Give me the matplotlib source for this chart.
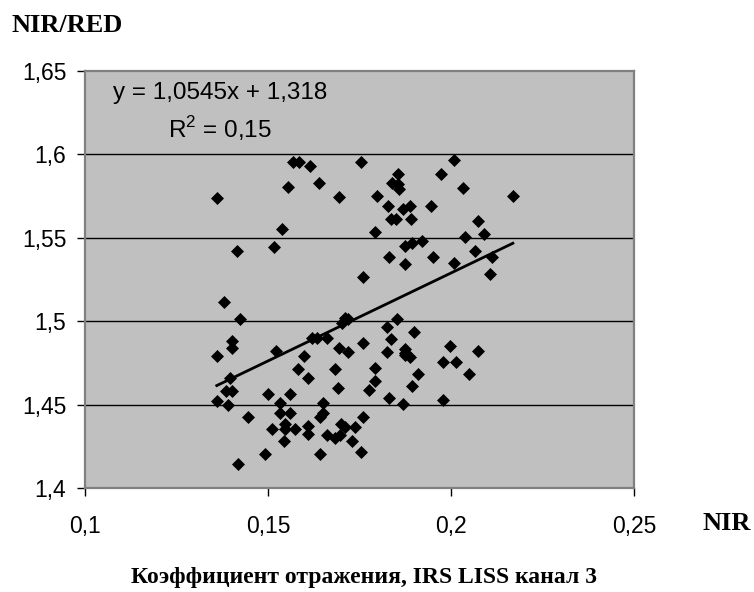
"""NIR/RED vs NIR reflectance scatter (IRS LISS band 3) with linear trend."""

import matplotlib
matplotlib.use("Agg")
import matplotlib.pyplot as plt
import numpy as np

# NIR reflectance (x) and NIR/RED ratio (y)
NIR = [
    0.1568, 0.1584, 0.1615, 0.1554, 0.1640, 0.1695, 0.1361, 0.1538, 0.1516, 0.1415,
    0.1754, 0.2008, 0.1972, 0.1855, 0.1838, 0.1856, 0.1859, 0.2034, 0.2169, 0.1797,
    0.1827, 0.1870, 0.1889, 0.1946, 0.1837, 0.1849, 0.1890, 0.2075, 0.1792, 0.2039,
    0.2091, 0.1920, 0.1894, 0.1873, 0.2065, 0.1831, 0.1952, 0.2112, 0.2008, 0.1873,
    0.1760, 0.2106, 0.1381, 0.1423, 0.1402, 0.1402, 0.1360, 0.1522, 0.1620, 0.1635,
    0.1662, 0.1598, 0.1583, 0.1610, 0.1694, 0.1683, 0.1690, 0.1396, 0.1384, 0.1401,
    0.1360, 0.1392, 0.1445, 0.1501, 0.1559, 0.1533, 0.1651, 0.1651, 0.1533, 0.1560,
    0.1642, 0.1512, 0.1546, 0.1546, 0.1574, 0.1610, 0.1610, 0.1544, 0.1660, 0.1683,
    0.1697, 0.1700, 0.1711, 0.1738, 0.1729, 0.1754, 0.1760, 0.1492, 0.1641, 0.1419,
    0.1710, 0.1719, 0.1701, 0.1852, 0.1826, 0.1900, 0.1874, 0.1874, 0.1997, 0.1977,
    0.2014, 0.1718, 0.1760, 0.1837, 0.1826, 0.1873, 0.1889, 0.2075, 0.1791, 0.1911,
    0.2050, 0.1792, 0.1775, 0.1894, 0.1831, 0.1868, 0.1977,
]
NIR_RED = [
    1.5955, 1.5955, 1.5929, 1.5805, 1.5826, 1.5742, 1.5740, 1.5552, 1.5444, 1.5420,
    1.5955, 1.5968, 1.5884, 1.5880, 1.5829, 1.5824, 1.5790, 1.5797, 1.5751, 1.5749,
    1.5692, 1.5671, 1.5692, 1.5692, 1.5611, 1.5611, 1.5611, 1.5599, 1.5535, 1.5503,
    1.5524, 1.5478, 1.5468, 1.5448, 1.5423, 1.5387, 1.5387, 1.5387, 1.5347, 1.5343,
    1.5264, 1.5284, 1.5113, 1.5011, 1.4883, 1.4837, 1.4793, 1.4821, 1.4901, 1.4901,
    1.4897, 1.4793, 1.4714, 1.4657, 1.4842, 1.4714, 1.4598, 1.4662, 1.4583, 1.4583,
    1.4523, 1.4498, 1.4424, 1.4565, 1.4565, 1.4510, 1.4510, 1.4447, 1.4450, 1.4450,
    1.4428, 1.4354, 1.4383, 1.4356, 1.4352, 1.4369, 1.4326, 1.4281, 1.4320, 1.4298,
    1.4318, 1.4383, 1.4363, 1.4363, 1.4281, 1.4214, 1.4424, 1.4201, 1.4201, 1.4141,
    1.5019, 1.5011, 1.4989, 1.5013, 1.4968, 1.4934, 1.4836, 1.4795, 1.4853, 1.4755,
    1.4755, 1.4814, 1.4872, 1.4892, 1.4815, 1.4810, 1.4783, 1.4819, 1.4717, 1.4684,
    1.4684, 1.4642, 1.4586, 1.4612, 1.4537, 1.4503, 1.4527,
]

# trend line as printed on the chart
SLOPE = 1.0545
INTERCEPT = 1.318
EQUATION = "y = 1,0545x + 1,318"
R2_TEXT = "R$^2$ = 0,15"

XTICKS = [0.10, 0.15, 0.20, 0.25]
XTICK_LABELS = ["0,1", "0,15", "0,2", "0,25"]
YTICKS = [1.40, 1.45, 1.50, 1.55, 1.60, 1.65]
YTICK_LABELS = ["1,4", "1,45", "1,5", "1,55", "1,6", "1,65"]

W, H = 754, 592


def main() -> None:
    plt.rcParams.update({
        "font.family": ["Liberation Sans", "DejaVu Sans"],
        "font.size": 16.5,
        "mathtext.fontset": "custom",
        "mathtext.rm": "Liberation Sans",
    })

    fig = plt.figure(figsize=(W / 100, H / 100), dpi=100)
    ax = fig.add_axes([85 / W, 1 - 488 / H, (634 - 85) / W, (488 - 71) / H])
    ax.set_facecolor("#C0C0C0")

    ax.set_xlim(0.10, 0.25)
    ax.set_ylim(1.40, 1.65)
    ax.set_xticks(XTICKS)
    ax.set_xticklabels(XTICK_LABELS)
    ax.set_yticks(YTICKS)
    ax.set_yticklabels(YTICK_LABELS)
    ax.tick_params(direction="out", length=5.5, width=1.0, color="black", pad=8)
    ax.tick_params(axis="x", pad=14)

    for y in YTICKS[1:-1]:
        ax.axhline(y, color="black", linewidth=1.0, zorder=1)
    for s in ax.spines.values():
        s.set_color("#808080")
        s.set_linewidth(1.6)

    ax.scatter(NIR, NIR_RED, marker="D", s=44, color="black",
               linewidths=0, zorder=3)

    xs = np.array([min(NIR), max(NIR)])
    ax.plot(xs, SLOPE * xs + INTERCEPT, color="black", linewidth=2.0, zorder=4)

    ax.text(0.246, 0.947, EQUATION, transform=ax.transAxes, ha="center",
            va="center", fontsize=17.5)
    ax.text(0.246, 0.863, R2_TEXT, transform=ax.transAxes, ha="center",
            va="center", fontsize=17.5)

    serif = ["Liberation Serif", "DejaVu Serif"]
    fig.text(12 / W, 1 - 26 / H, "NIR/RED", family=serif, weight="bold",
             fontsize=19, ha="left", va="center")
    fig.text(727 / W, 1 - 523 / H, "NIR", family=serif, weight="bold",
             fontsize=19, ha="center", va="center")
    fig.text(364 / W, 1 - 577 / H, "Коэффициент отражения, IRS LISS канал 3",
             family=serif, weight="bold", fontsize=17, ha="center", va="center")

    fig.savefig("out.png", dpi=100)
    plt.close(fig)


if __name__ == "__main__":
    main()
